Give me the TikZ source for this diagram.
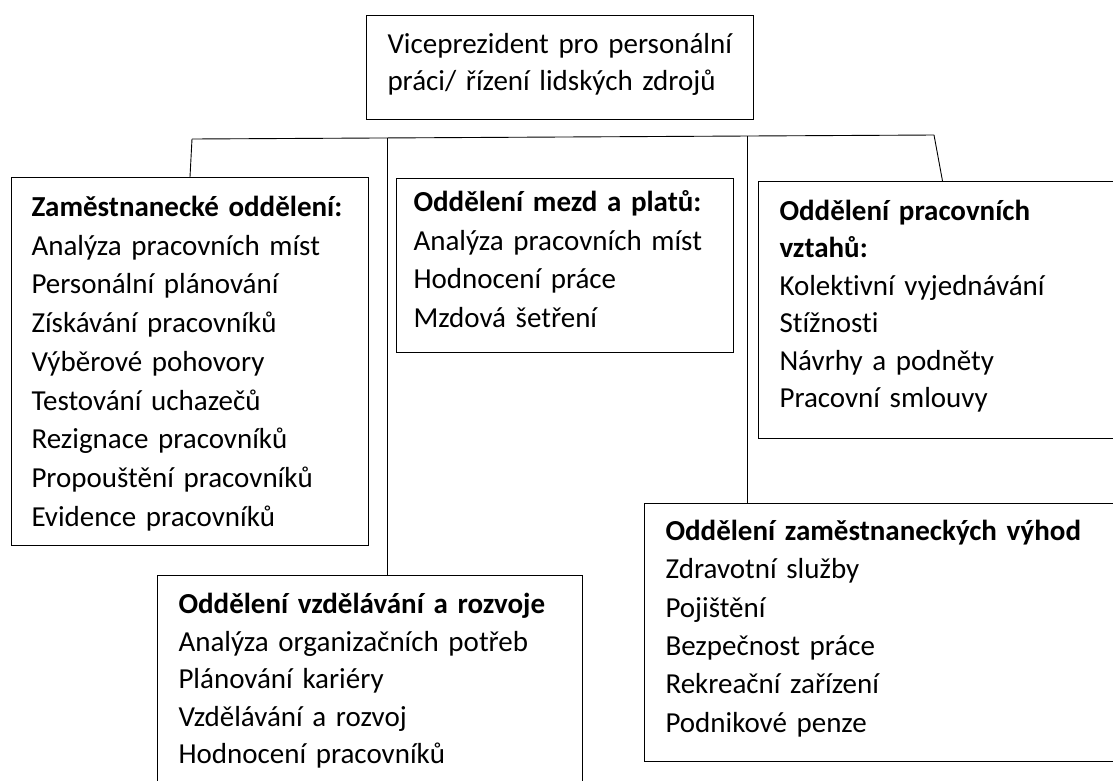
\documentclass[tikz,border=0pt]{standalone}
\usepackage{fontspec}
\setmainfont{Carlito}[Ligatures=NoCommon]
\begin{document}
\begin{tikzpicture}[x=1pt,y=-1pt,
  dept/.style={draw, line width=1pt, anchor=north west, align=left,
    inner ysep=0pt, inner xsep=21pt},
  lskip/.style={font=\fontsize{29}{#1}\selectfont},
  wire/.style={line width=0.9pt}]
\path[use as bounding box, fill=white] (0,0) rectangle (1113,780);
\clip (0,0) rectangle (1113,780);

\node[dept, lskip=37.3, text width=345, text height=37.7, text depth=66.3] (vp) at (366,15)
  {Viceprezident pro personální\\práci/ řízení lidských zdrojů};

\node[dept, lskip=38.7, inner xsep=20pt, text width=317, text height=39, text depth=329] (zam) at (11,177)
  {\textbf{Zaměstnanecké oddělení:}\\Analýza pracovních míst\\Personální plánování\\Získávání pracovníků\\Výběrové pohovory\\Testování uchazečů\\Rezignace pracovníků\\Propouštění pracovníků\\Evidence pracovníků};

\node[dept, lskip=38.7, inner xsep=17pt, text width=303, text height=33, text depth=141] (mzd) at (396,178)
  {\textbf{Oddělení mezd a platů:}\\Analýza pracovních míst\\Hodnocení práce\\Mzdová šetření};

\node[dept, lskip=37.4, text width=326, text height=39, text depth=218] (vzt) at (758,181)
  {\textbf{Oddělení pracovních}\\\textbf{vztahů:}\\Kolektivní vyjednávání\\Stížnosti\\Návrhy a podněty\\Pracovní smlouvy};

\node[dept, lskip=37.5, text width=383, text height=38, text depth=207] (vzd) at (157,575)
  {\textbf{Oddělení vzdělávání a rozvoje}\\Analýza organizačních potřeb\\Plánování kariéry\\Vzdělávání a rozvoj\\Hodnocení pracovníků};

\node[dept, lskip=38.3, text width=558, text height=37, text depth=221] (vyh) at (644,503)
  {\textbf{Oddělení zaměstnaneckých výhod}\\Zdravotní služby\\Pojištění\\Bezpečnost práce\\Rekreační zařízení\\Podnikové penze};

% bus line and drops
\coordinate (busL) at (192,139);
\coordinate (busR) at (934,135);
\coordinate (c2) at (387,138);
\coordinate (c3) at (747,136);
\draw[wire] (busL) -- (busR);
\draw[wire] (busL) -- (zam.north);
\draw[wire] (busR) -- (vzt.north);
\draw[wire] (c2) -- (c2 |- vzd.north);
\draw[wire] (c3) -- (c3 |- vyh.north);
\end{tikzpicture}
\end{document}
